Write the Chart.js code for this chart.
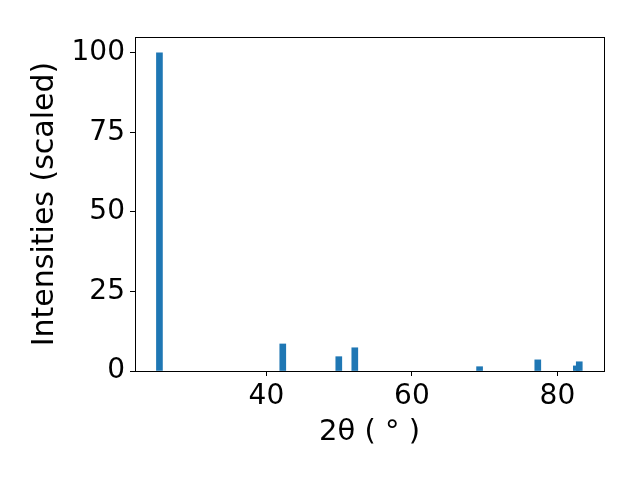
<!DOCTYPE html>
<html>
<head>
<meta charset="utf-8">
<script src="https://cdn.jsdelivr.net/npm/chart.js@4/dist/chart.umd.min.js"></script>
<style>
html,body{margin:0;padding:0;background:#fff;}
#wrap{width:640px;height:480px;}
</style>
</head>
<body>
<div id="wrap"><canvas id="c" width="640" height="480"></canvas></div>
<script>
const twoTheta = [25.3, 42.25, 49.95, 52.15, 69.3, 77.3, 82.6, 83.0];
const intensities = [100, 8.5, 4.5, 7.3, 1.35, 3.5, 1.6, 2.9];
const xTicks = [40, 60, 80];
const yTicks = [0, 25, 50, 75, 100];
const xLabel = '2θ ( ° )';
const yLabel = 'Intensities (scaled)';

const points = twoTheta.map((x, i) => ({x: x, y: intensities[i]}));
const FONT = 'DejaVu Sans';

const framePlugin = {
  id: 'frame',
  afterDraw(chart) {
    const a = chart.chartArea, ctx = chart.ctx;
    ctx.save();
    ctx.strokeStyle = '#000';
    ctx.lineWidth = 1;
    ctx.strokeRect(Math.round(a.left) + 0.5, Math.round(a.top) + 0.5, Math.round(a.right - a.left), Math.round(a.bottom - a.top));
    ctx.restore();
  }
};

new Chart(document.getElementById('c'), {
  type: 'bar',
  data: {
    datasets: [{
      data: points,
      backgroundColor: '#1f77b4',
      borderWidth: 0,
      barThickness: 6
    }]
  },
  options: {
    responsive: false,
    animation: false,
    devicePixelRatio: 1,
    layout: {padding: {left: 0, right: 36, top: 37, bottom: 0}},
    plugins: {legend: {display: false}, tooltip: {enabled: false}},
    scales: {
      x: {
        type: 'linear',
        offset: false,
        min: 21.94,
        max: 86.4,
        afterBuildTicks: s => { s.ticks = xTicks.map(v => ({value: v})); },
        afterFit: s => { s.height = 109; },
        grid: {display: true, offset: false, drawOnChartArea: false, drawTicks: true, tickLength: 5, color: '#000', lineWidth: 1},
        border: {display: true, color: '#000', width: 1},
        ticks: {color: '#000', font: {family: FONT, size: 28}, padding: 4, maxRotation: 0, autoSkip: false},
        title: {display: true, text: xLabel, color: '#000', font: {family: FONT, size: 29}, padding: {top: 0, bottom: 30}}
      },
      y: {
        min: 0,
        max: 105,
        afterBuildTicks: s => { s.ticks = yTicks.map(v => ({value: v})); },
        afterFit: s => { s.width = 135; },
        grid: {display: true, drawOnChartArea: false, drawTicks: true, tickLength: 5, color: '#000', lineWidth: 1},
        border: {display: true, color: '#000', width: 1},
        ticks: {color: '#000', font: {family: FONT, size: 28}, padding: 5, autoSkip: false},
        title: {display: true, text: yLabel, color: '#000', font: {family: FONT, size: 30}, padding: {top: 27, bottom: 0}}
      }
    }
  },
  plugins: [framePlugin]
});
</script>
</body>
</html>
